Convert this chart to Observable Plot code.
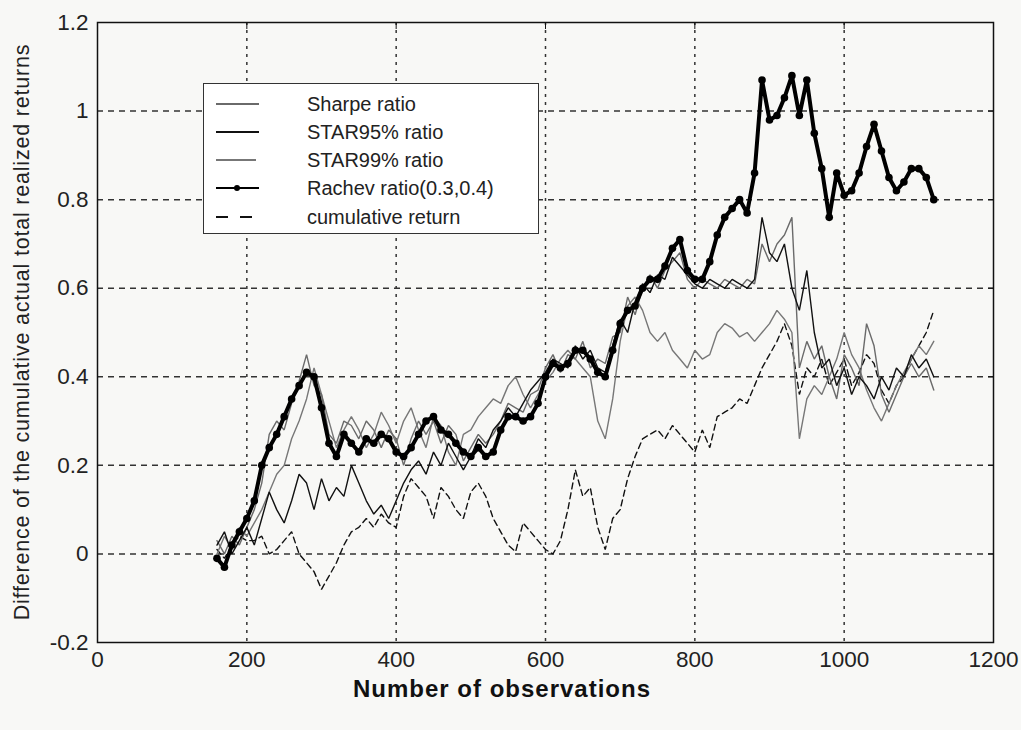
<!DOCTYPE html>
<html>
<head>
<meta charset="utf-8">
<script src="https://cdn.jsdelivr.net/npm/d3@7"></script>
<script src="https://cdn.jsdelivr.net/npm/@observablehq/plot@0.6"></script>
<style>
  html, body { margin: 0; padding: 0; background: #f8f8f6; }
  #wrap { position: relative; width: 1021px; height: 730px; overflow: hidden; font-family: "Liberation Sans", Arial, sans-serif; }
  #chart svg text { font-size: 22.5px !important; font-family: "Liberation Sans", Arial, sans-serif; fill: #222; }
  #ylabel { position: absolute; left: -298px; top: 320px; width: 640px; text-align: center; font-size: 21.5px; letter-spacing: 0.8px; color: #222; transform: rotate(-90deg); transform-origin: 50% 50%; line-height: 24px; white-space: nowrap; }
  #xlabel { position: absolute; left: 0; top: 675px; width: 1004px; text-align: center; font-size: 24px; letter-spacing: 1px; font-weight: bold; color: #111; }
  #legend { position: absolute; left: 203px; top: 83px; width: 336px; height: 151px; background: #fff; border: 1.5px solid #333; box-sizing: border-box; }
  .row { position: absolute; left: 0; height: 28px; width: 100%; }
  .row svg { position: absolute; left: 10px; top: 0; }
  .row span { position: absolute; left: 103px; top: 3px; font-size: 20px; color: #222; line-height: 22px; }
</style>
</head>
<body>
<div id="wrap">
  <div id="chart"></div>
  <div id="ylabel">Difference of the cumulative actual total realized returns</div>
  <div id="xlabel">Number of observations</div>
  <div id="legend"></div>
</div>
<script>
// x positions (observation numbers) shared by every series
const obs = d3.range(160, 1121, 10);

const sharpe = [
  0.03, 0.00, 0.04, 0.02, 0.06,
  0.10, 0.16, 0.27, 0.30, 0.28, 0.34, 0.39, 0.45, 0.38, 0.36,
  0.27, 0.25, 0.30, 0.29, 0.26, 0.30, 0.28, 0.24, 0.28, 0.26,
  0.20, 0.26, 0.30, 0.27, 0.30, 0.25, 0.29, 0.27, 0.21, 0.24,
  0.27, 0.25, 0.27, 0.30, 0.34, 0.33, 0.32, 0.36, 0.37, 0.42,
  0.45, 0.41, 0.45, 0.44, 0.48, 0.42, 0.44, 0.43, 0.49, 0.50,
  0.58, 0.54, 0.60, 0.63, 0.60, 0.64, 0.66, 0.68, 0.62, 0.60,
  0.62, 0.61, 0.60, 0.62, 0.61, 0.60, 0.62, 0.61, 0.70, 0.66,
  0.70, 0.72, 0.76, 0.42, 0.48, 0.44, 0.47, 0.40, 0.35, 0.45,
  0.42, 0.38, 0.52, 0.47, 0.36, 0.32, 0.36, 0.40, 0.43, 0.40,
  0.42, 0.37
];

const star95 = [
  0.02, 0.05, 0.00, 0.03, 0.06,
  0.02, 0.08, 0.14, 0.10, 0.07, 0.12, 0.18, 0.16, 0.10, 0.17,
  0.12, 0.15, 0.13, 0.20, 0.16, 0.12, 0.09, 0.11, 0.08, 0.12,
  0.16, 0.19, 0.21, 0.18, 0.23, 0.20, 0.25, 0.22, 0.19, 0.22,
  0.26, 0.24, 0.28, 0.30, 0.33, 0.31, 0.34, 0.37, 0.39, 0.41,
  0.44, 0.43, 0.42, 0.47, 0.44, 0.46, 0.42, 0.41, 0.47, 0.53,
  0.50, 0.57, 0.61, 0.59, 0.63, 0.62, 0.67, 0.65, 0.63, 0.61,
  0.60, 0.62, 0.61, 0.60, 0.62, 0.61, 0.60, 0.62, 0.76, 0.68,
  0.66, 0.70, 0.60, 0.55, 0.64, 0.50, 0.42, 0.44, 0.38, 0.42,
  0.36, 0.40, 0.38, 0.35, 0.40, 0.37, 0.42, 0.40, 0.45, 0.42,
  0.44, 0.40
];

const star99 = [
  0.00, 0.04, 0.01, 0.06, 0.04,
  0.07, 0.10, 0.14, 0.18, 0.20, 0.26, 0.30, 0.35, 0.42, 0.36,
  0.30, 0.24, 0.28, 0.31, 0.28, 0.24, 0.27, 0.32, 0.29, 0.25,
  0.30, 0.33, 0.28, 0.24, 0.31, 0.29, 0.23, 0.20, 0.27, 0.28,
  0.31, 0.33, 0.35, 0.34, 0.38, 0.40, 0.36, 0.33, 0.36, 0.39,
  0.41, 0.44, 0.46, 0.44, 0.42, 0.40, 0.30, 0.26, 0.35, 0.48,
  0.56, 0.58, 0.55, 0.50, 0.48, 0.50, 0.46, 0.44, 0.42, 0.46,
  0.44, 0.45, 0.50, 0.52, 0.51, 0.49, 0.50, 0.48, 0.50, 0.52,
  0.55, 0.53, 0.50, 0.26, 0.35, 0.38, 0.36, 0.40, 0.44, 0.50,
  0.45, 0.42, 0.37, 0.33, 0.30, 0.34, 0.38, 0.41, 0.44, 0.47,
  0.45, 0.48
];

const rachev = [
  -0.01, -0.03, 0.02, 0.05, 0.08,
  0.12, 0.20, 0.24, 0.27, 0.31, 0.35, 0.38, 0.41, 0.40, 0.33,
  0.25, 0.22, 0.27, 0.25, 0.23, 0.26, 0.25, 0.27, 0.26, 0.23,
  0.22, 0.24, 0.27, 0.30, 0.31, 0.28, 0.27, 0.25, 0.23, 0.22,
  0.24, 0.22, 0.23, 0.28, 0.31, 0.31, 0.30, 0.31, 0.34, 0.40,
  0.43, 0.42, 0.43, 0.46, 0.46, 0.44, 0.41, 0.40, 0.46, 0.52,
  0.55, 0.56, 0.60, 0.62, 0.62, 0.65, 0.69, 0.71, 0.64, 0.62,
  0.62, 0.66, 0.72, 0.76, 0.78, 0.80, 0.77, 0.86, 1.07, 0.98,
  0.99, 1.03, 1.08, 0.99, 1.07, 0.95, 0.87, 0.76, 0.86, 0.81,
  0.82, 0.86, 0.92, 0.97, 0.91, 0.85, 0.82, 0.84, 0.87, 0.87,
  0.85, 0.80
];

const cumulative = [
  0.01, -0.01, 0.02, 0.04, 0.03,
  0.03, 0.04, 0.00, 0.01, 0.03, 0.05, 0.00, -0.02, -0.04, -0.08,
  -0.05, -0.02, 0.02, 0.05, 0.06, 0.08, 0.06, 0.09, 0.07, 0.06,
  0.13, 0.17, 0.15, 0.13, 0.08, 0.15, 0.13, 0.10, 0.08, 0.14,
  0.16, 0.13, 0.08, 0.05, 0.02, 0.005, 0.07, 0.05, 0.03, 0.01,
  0.00, 0.03, 0.10, 0.19, 0.13, 0.15, 0.06, 0.01, 0.08, 0.10,
  0.17, 0.22, 0.26, 0.27, 0.28, 0.26, 0.29, 0.27, 0.25, 0.23,
  0.28, 0.24, 0.31, 0.32, 0.33, 0.35, 0.34, 0.38, 0.42, 0.45,
  0.48, 0.52, 0.47, 0.36, 0.42, 0.40, 0.44, 0.38, 0.41, 0.44,
  0.38, 0.41, 0.45, 0.43, 0.37, 0.34, 0.38, 0.40, 0.44, 0.47,
  0.50, 0.55
];

const xTicks = [0, 200, 400, 600, 800, 1000, 1200];
const yTicks = [-0.2, 0, 0.2, 0.4, 0.6, 0.8, 1, 1.2];

const seriesNames = ["Sharpe ratio", "STAR95% ratio", "STAR99% ratio", "Rachev ratio(0.3,0.4)", "cumulative return"];
const seriesValues = [sharpe, star95, star99, rachev, cumulative];
const seriesStyle = [
  {stroke: "#6a6a6a", strokeWidth: 1.4, dash: null},
  {stroke: "#111111", strokeWidth: 1.4, dash: null},
  {stroke: "#777777", strokeWidth: 1.4, dash: null},
  {stroke: "#000000", strokeWidth: 4, dash: null},
  {stroke: "#111111", strokeWidth: 1.4, dash: "6,4"}
];

const tables = seriesValues.map(vals => vals.map((v, i) => ({obs: obs[i], value: v})));

const lineMarks = tables.map((t, k) => Plot.line(t, {
  x: "obs", y: "value",
  stroke: seriesStyle[k].stroke,
  strokeWidth: seriesStyle[k].strokeWidth,
  strokeDasharray: seriesStyle[k].dash || undefined,
  strokeLinejoin: "miter"
}));

const noLabel = () => "";

const chart = Plot.plot({
  width: 1021,
  height: 730,
  marginLeft: 97,
  marginRight: 28,
  marginTop: 22,
  marginBottom: 88,
  x: {domain: [0, 1200], ticks: xTicks, label: null},
  y: {domain: [-0.2, 1.2], ticks: yTicks, label: null},
  style: {background: "transparent", fontFamily: "Liberation Sans, Arial, sans-serif", fontSize: "21px", color: "#222"},
  marks: [
    Plot.ruleX(xTicks.slice(1, -1), {stroke: "#333", strokeWidth: 1.5, strokeDasharray: "3,5"}),
    Plot.ruleY(yTicks.slice(1, -1), {stroke: "#333", strokeWidth: 1.5, strokeDasharray: "6,5"}),
    lineMarks[4],
    lineMarks[2],
    lineMarks[0],
    lineMarks[1],
    lineMarks[3],
    Plot.dot(tables[3], {x: "obs", y: "value", r: 3.8, fill: "#000", stroke: "none"}),
    Plot.frame({stroke: "#111", strokeWidth: 1.5}),
    Plot.axisX({anchor: "top", ticks: xTicks, tickSize: -6, tickFormat: noLabel, label: null, stroke: "#111"}),
    Plot.axisY({anchor: "right", ticks: yTicks, tickSize: -6, tickFormat: noLabel, label: null, stroke: "#111"}),
    Plot.axisX({ticks: xTicks, tickSize: 0, tickPadding: 9, label: null, tickFormat: d => String(d)}),
    Plot.axisY({ticks: yTicks, tickSize: 0, tickPadding: 9, label: null, tickFormat: d => String(+d.toFixed(1))})
  ]
});
document.getElementById("chart").appendChild(chart);

// legend (HTML overlay)
const legend = document.getElementById("legend");
const rowTops = [6, 34, 62, 90, 119];
seriesNames.forEach((name, k) => {
  const row = document.createElement("div");
  row.className = "row";
  row.style.top = rowTops[k] + "px";
  const st = seriesStyle[k];
  const x2 = k === 2 ? 42 : 45;
  let svg = `<svg width="60" height="28"><line x1="2" y1="14" x2="${x2}" y2="14" stroke="${st.stroke}" stroke-width="1.8" ${st.dash ? 'stroke-dasharray="12,12"' : ''}/>`;
  if (k === 3) svg += `<circle cx="23" cy="14" r="3" fill="#000"/>`;
  svg += `</svg>`;
  row.innerHTML = svg + `<span>${name}</span>`;
  legend.appendChild(row);
});
</script>
</body>
</html>
